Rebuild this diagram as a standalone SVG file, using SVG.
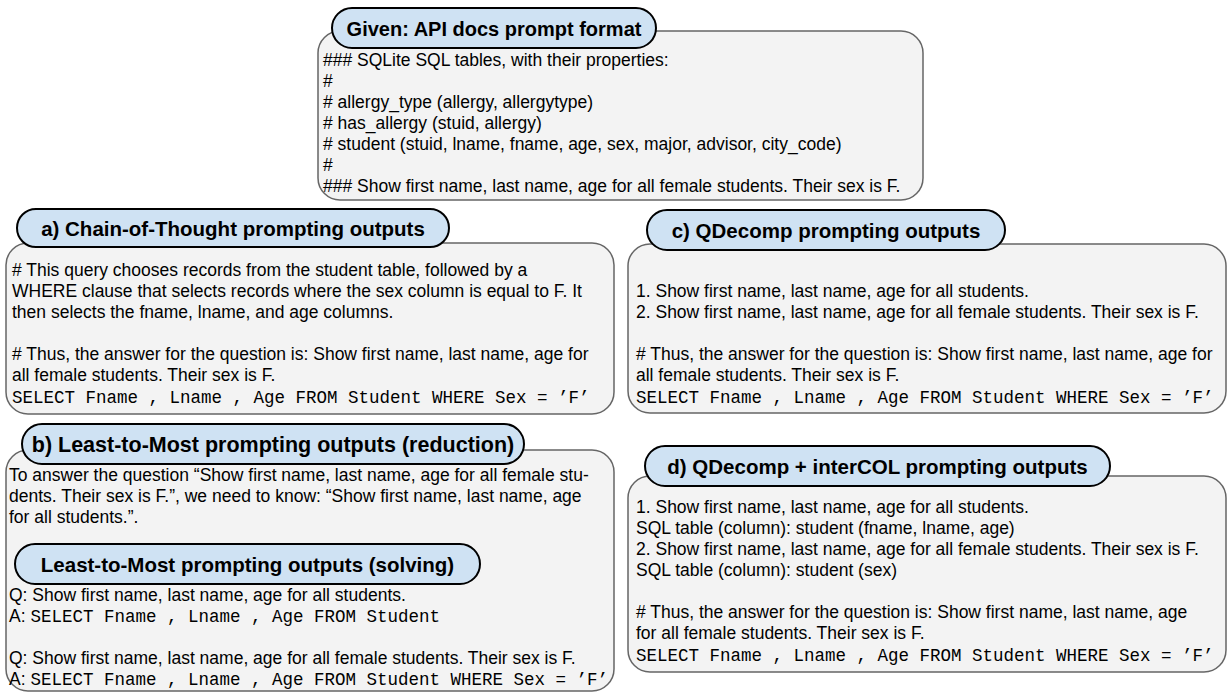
<svg xmlns="http://www.w3.org/2000/svg" width="1228" height="693" viewBox="0 0 1228 693">
<style>
.box{fill:#f3f3f3;stroke:#666;stroke-width:1.5}
.pill{fill:#cfe2f3;stroke:#000;stroke-width:2}
.t{font-family:"Liberation Sans",Arial,sans-serif;font-size:17.5px;fill:#000}
.h{font-family:"Liberation Sans",Arial,sans-serif;font-size:20.5px;font-weight:bold;fill:#000;text-anchor:middle}
.m{font-family:"Liberation Mono","Courier New",monospace;font-size:17.5px;fill:#000}
</style>
<rect width="1228" height="693" fill="#fff"/>
<g id="given">
<rect class="box" x="318" y="31" width="605" height="169" rx="22"/>
<rect class="pill" x="332" y="8" width="324" height="40" rx="20"/>
<text class="h" x="494" y="35.5" style="font-size:20px">Given: API docs prompt format</text>
<text class="t" x="323" y="66">### SQLite SQL tables, with their properties:</text>
<text class="t" x="323" y="87">#</text>
<text class="t" x="323" y="108"># allergy_type (allergy, allergytype)</text>
<text class="t" x="323" y="129"># has_allergy (stuid, allergy)</text>
<text class="t" x="323" y="150"># student (stuid, lname, fname, age, sex, major, advisor, city_code)</text>
<text class="t" x="323" y="171">#</text>
<text class="t" x="323" y="192">### Show first name, last name, age for all female students. Their sex is F.</text>
</g>
<g id="cot">
<rect class="box" x="6" y="243" width="608" height="171" rx="22"/>
<rect class="pill" x="17" y="209" width="432" height="38" rx="19"/>
<text class="h" x="233" y="235.5">a) Chain-of-Thought prompting outputs</text>
<text class="t" x="12" y="276"># This query chooses records from the student table, followed by a</text>
<text class="t" x="12" y="297">WHERE clause that selects records where the sex column is equal to F. It</text>
<text class="t" x="12" y="318">then selects the fname, lname, and age columns.</text>
<text class="t" x="12" y="360"># Thus, the answer for the question is: Show first name, last name, age for</text>
<text class="t" x="12" y="381">all female students. Their sex is F.</text>
<text class="m" x="12" y="403">SELECT Fname , Lname , Age FROM Student WHERE Sex = ’F’</text>
</g>
<g id="qdecomp">
<rect class="box" x="628" y="244" width="598" height="169" rx="22"/>
<rect class="pill" x="647" y="210" width="358" height="40" rx="20"/>
<text class="h" x="826" y="237.5">c) QDecomp prompting outputs</text>
<text class="t" x="636" y="297">1. Show first name, last name, age for all students.</text>
<text class="t" x="636" y="318">2. Show first name, last name, age for all female students. Their sex is F.</text>
<text class="t" x="636" y="360"># Thus, the answer for the question is: Show first name, last name, age for</text>
<text class="t" x="636" y="381">all female students. Their sex is F.</text>
<text class="m" x="636" y="403">SELECT Fname , Lname , Age FROM Student WHERE Sex = ’F’</text>
</g>
<g id="ltm">
<rect class="box" x="6" y="450" width="608" height="241" rx="22"/>
<rect class="pill" x="22" y="424" width="502" height="40" rx="20"/>
<text class="h" x="273" y="451.5" style="font-size:21.5px">b) Least-to-Most prompting outputs (reduction)</text>
<text class="t" x="9" y="481">To answer the question “Show first name, last name, age for all female stu-</text>
<text class="t" x="9" y="502">dents. Their sex is F.”, we need to know: “Show first name, last name, age</text>
<text class="t" x="9" y="523">for all students.”.</text>
</g>
<g id="ltm-solving">
<rect class="pill" x="15" y="544" width="465" height="40" rx="20"/>
<text class="h" x="247.5" y="571.5">Least-to-Most prompting outputs (solving)</text>
<text class="t" x="9" y="601">Q: Show first name, last name, age for all students.</text>
<text class="t" x="9" y="622">A: <tspan class="m">SELECT Fname , Lname , Age FROM Student</tspan></text>
<text class="t" x="9" y="664">Q: Show first name, last name, age for all female students. Their sex is F.</text>
<text class="t" x="9" y="685">A: <tspan class="m">SELECT Fname , Lname , Age FROM Student WHERE Sex = ’F’</tspan></text>
</g>
<g id="qdecomp-intercol">
<rect class="box" x="628" y="476" width="598" height="196" rx="22"/>
<rect class="pill" x="645" y="446" width="465" height="40" rx="20"/>
<text class="h" x="877.5" y="473.5">d) QDecomp + interCOL prompting outputs</text>
<text class="t" x="636" y="513">1. Show first name, last name, age for all students.</text>
<text class="t" x="636" y="534">SQL table (column): student (fname, lname, age)</text>
<text class="t" x="636" y="555">2. Show first name, last name, age for all female students. Their sex is F.</text>
<text class="t" x="636" y="576">SQL table (column): student (sex)</text>
<text class="t" x="636" y="618"># Thus, the answer for the question is: Show first name, last name, age</text>
<text class="t" x="636" y="639">for all female students. Their sex is F.</text>
<text class="m" x="636" y="661">SELECT Fname , Lname , Age FROM Student WHERE Sex = ’F’</text>
</g>
<g id="connectors"></g>
</svg>
